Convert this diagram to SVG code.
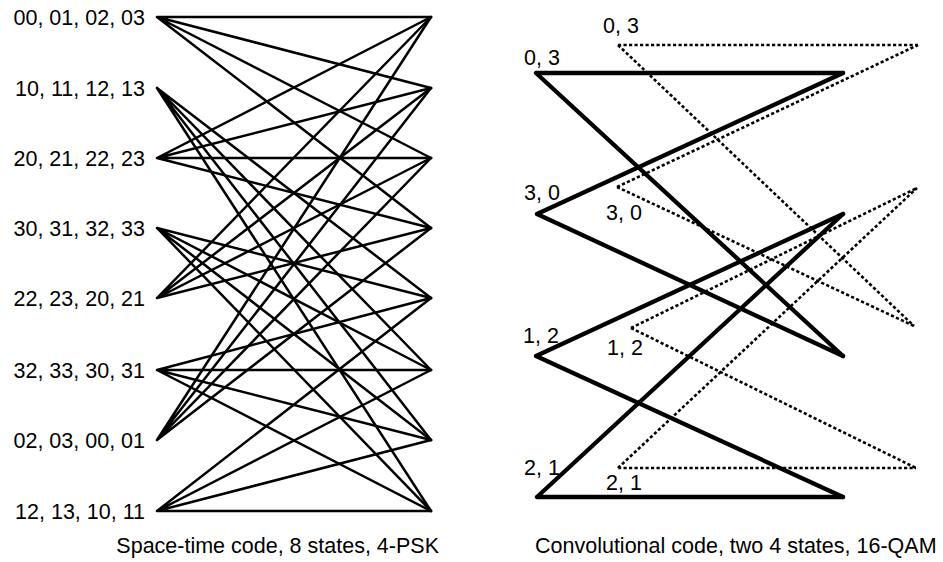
<svg xmlns="http://www.w3.org/2000/svg" width="943" height="562" viewBox="0 0 943 562">
<style>
text{font-family:"Liberation Sans",Arial,sans-serif;font-size:21.5px;fill:#000}
.st{stroke:#000;stroke-width:2.5;fill:none;stroke-linecap:round}
.cs{stroke:#000;stroke-width:4.3;fill:none;stroke-linecap:round;stroke-linejoin:round}
.cd{stroke:#000;stroke-width:2.6;fill:none;stroke-dasharray:3.2 2.3}
.lab{text-anchor:end}
</style>
<rect width="943" height="562" fill="#fff"/>
<g id="connectors">
<g id="stc-edges" class="st">
<path d="M157 17L431 17M157 17L431 88M157 17L431 158M157 17L431 228"/>
<path d="M157 88L431 298M157 88L431 370M157 88L431 440M157 88L431 511"/>
<path d="M157 158L431 17M157 158L431 88M157 158L431 158M157 158L431 228"/>
<path d="M157 228L431 298M157 228L431 370M157 228L431 440M157 228L431 511"/>
<path d="M157 298L431 17M157 298L431 88M157 298L431 158M157 298L431 228"/>
<path d="M157 370L431 298M157 370L431 370M157 370L431 440M157 370L431 511"/>
<path d="M157 440L431 17M157 440L431 88M157 440L431 158M157 440L431 228"/>
<path d="M157 511L431 298M157 511L431 370M157 511L431 440M157 511L431 511"/>
</g>
<g id="conv-dotted" class="cd">
<path d="M618 45L918 45M618 45L914 326"/>
<path d="M617 187L918 45M617 187L914 326"/>
<path d="M631 328L917 188M631 328L916 468"/>
<path d="M618 468L917 188M618 468L916 468"/>
</g>
<g id="conv-solid" class="cs">
<path d="M536 73L843 73M536 73L843 356"/>
<path d="M537 214L843 73M537 214L843 356"/>
<path d="M536 356L843 214M536 356L843 497"/>
<path d="M537 497L843 214M537 497L843 497"/>
</g>
</g>
<g id="stc-s0"><text class="lab" x="145" y="24.5">00, 01, 02, 03</text></g>
<g id="stc-s1"><text class="lab" x="145" y="95.5">10, 11, 12, 13</text></g>
<g id="stc-s2"><text class="lab" x="145" y="165.5">20, 21, 22, 23</text></g>
<g id="stc-s3"><text class="lab" x="145" y="235.5">30, 31, 32, 33</text></g>
<g id="stc-s4"><text class="lab" x="145" y="305.5">22, 23, 20, 21</text></g>
<g id="stc-s5"><text class="lab" x="145" y="377.5">32, 33, 30, 31</text></g>
<g id="stc-s6"><text class="lab" x="145" y="447.5">02, 03, 00, 01</text></g>
<g id="stc-s7"><text class="lab" x="145" y="518.5">12, 13, 10, 11</text></g>
<g id="conv-a0"><text x="524" y="65">0, 3</text></g>
<g id="conv-a1"><text x="524" y="200">3, 0</text></g>
<g id="conv-a2"><text x="523" y="343">1, 2</text></g>
<g id="conv-a3"><text x="524" y="475">2, 1</text></g>
<g id="conv-b0"><text x="603" y="33">0, 3</text></g>
<g id="conv-b1"><text x="606" y="220">3, 0</text></g>
<g id="conv-b2"><text x="607" y="355">1, 2</text></g>
<g id="conv-b3"><text x="606" y="490">2, 1</text></g>
<g id="captions">
<text x="439" y="553" text-anchor="end">Space-time code, 8 states, 4-PSK</text>
<text x="535" y="553">Convolutional code, two 4 states, 16-QAM</text>
</g>
</svg>
